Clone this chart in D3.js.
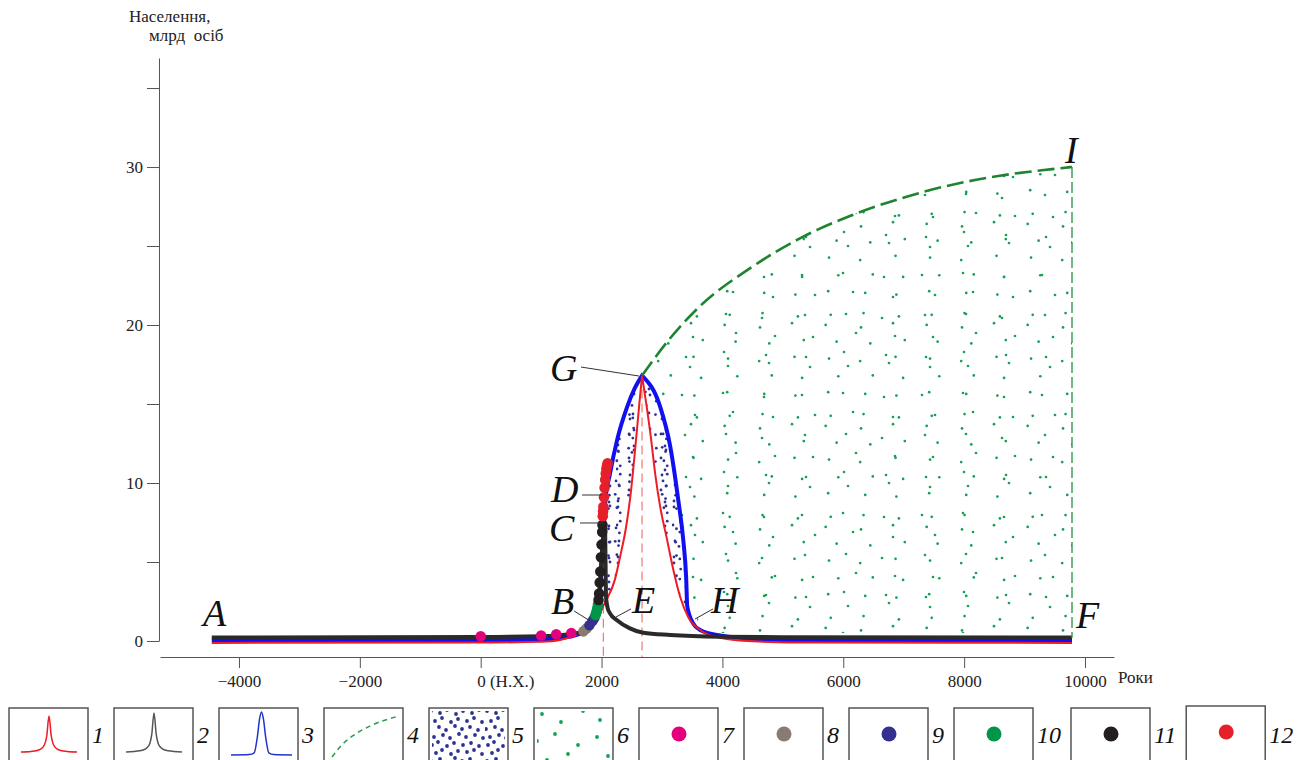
<!DOCTYPE html>
<html lang="uk">
<head>
<meta charset="UTF-8" />
<title>Населення світу</title>
<script src="https://d3js.org/d3.v7.min.js"></script>
<style>
  body { margin: 0; background: #fff; }
  svg { display: block; font-family: "Liberation Serif", "Times New Roman", serif; }
  .axis path, .axis line { stroke: #555; }
  .axis text { font-size: 17px; fill: #222; font-family: "Liberation Serif", serif; }
  .lbl { font-style: italic; font-size: 38px; fill: #111; }
  .leg { font-style: italic; font-size: 24px; fill: #111; }
</style>
</head>
<body>
<svg id="chart" width="1298" height="760"></svg>
<script>
// ---- data (years, billions) ----
// curve 1 (red), split at the peak
const redLeft = [[-4450,-0.12],[0,-0.1],[1000,-0.05],[1315,0.06],[1645,0.5],[1890,1.1],[2040,2.3],[2222,3.9],[2305,5.3],[2405,7.2],[2490,9.6],[2555,12.1],[2620,14.8],[2670,16.8]];
const redRight = [[2670,16.8],[2748,14.8],[2822,12.7],[2887,10.6],[2970,8.5],[3085,6.4],[3200,4.3],[3300,2.8],[3435,1.5],[3630,0.7],[3960,0.2],[4500,-0.02],[5500,-0.1],[9785,-0.12]];
// curve 2 (black)
const blackLeft = [[-4450,0.22],[0,0.25],[1000,0.3],[1500,0.45],[1700,0.62],[1800,0.95],[1900,1.6],[1950,2.5],[2000,5.3],[2040,7.2],[2058,7.5]];
const blackRight = [[2058,7.5],[2066,5.0],[2074,2.8],[2100,2.1],[2140,1.75],[2250,1.33],[2470,0.8],[2690,0.52],[3135,0.38],[3960,0.27],[5000,0.24],[9785,0.22]];
// curve 3 (blue)
const blueLeft = [[-4450,0.03],[0,0.05],[1000,0.1],[1500,0.3],[1750,0.7],[1850,1.2],[1950,2.4],[2000,4.5],[2040,7.3],[2060,8.8],[2140,10.6],[2256,12.7],[2422,14.8],[2550,16.0],[2670,16.8]];
const blueRight = [[2670,16.8],[2972,14.8],[3137,12.3],[3270,8.9],[3352,6.4],[3400,4.0],[3418,2.2],[3518,1.1],[3630,0.7],[3960,0.35],[4620,0.12],[5500,0.03],[9785,0.03]];
// curve 4 (green dashed limit)
const limitCurve = [[2670,16.8],[3100,19.0],[3630,21.2],[4460,23.6],[5290,25.5],[6110,26.9],[6940,28.0],[7770,28.85],[8590,29.45],[9420,29.85],[9785,30]];
const limitEnd = [9785, 30];
// dashed verticals (year, top value)
const dropLines = [[2030,2.3],[2670,16.8]];

// point series 7..12
const points7 = [[0,0.3],[1000,0.35],[1250,0.42],[1500,0.5]];
const points8 = [[1700,0.61],[1750,0.79]];
const points9 = [[1800,1.0],[1850,1.26],[1880,1.45]];
const points10 = [[1900,1.65],[1910,1.75],[1920,1.9],[1930,2.07],[1940,2.3]];
const points11 = [[1950,2.6],[1960,3.0],[1970,3.7],[1980,4.4],[1990,5.3],[2000,6.1],[2010,6.9],[2015,7.35]];
const points12 = [[2020,7.9],[2025,8.2],[2030,8.5],[2040,9.1],[2050,9.7],[2060,10.2],[2070,10.6],[2080,10.9],[2090,11.1],[2100,11.25]];

// letters: text anchor (year, value), optional leader line
const letters = [
  {t:"A", at:[-4595,0.95]},
  {t:"B", at:[1164,1.7], from:[1545,1.9], to:[1810,1.27]},
  {t:"C", at:[1130,6.33], from:[1643,7.47], to:[2024,7.47]},
  {t:"D", at:[1164,8.8], from:[1677,9.24], to:[2007,9.24]},
  {t:"E", at:[2504,1.77], from:[2487,2.03], to:[2239,1.52]},
  {t:"G", at:[1147,16.46], from:[1660,17.34], to:[2620,16.77]},
  {t:"H", at:[3812,1.77], from:[3844,2.03], to:[3546,1.39]},
  {t:"I", at:[9669,30.25]},
  {t:"F", at:[9851,0.82]}
];

const xTicks = [-4000,-2000,0,2000,4000,6000,8000,10000];
const xTickLabels = ["\u22124000","\u22122000","0 (Н.Х.)","2000","4000","6000","8000","10000"];
const yTicks = [0,5,10,15,20,25,30,35];
const yTickLabels = ["0","","10","","20","","30",""];

const legendLabels = ["1","2","3","4","5","6","7","8","9","10","11","12"];
// sample shapes in the legend (0..1 units)
const legendSharp = [[0,0],[0.25,0.03],[0.35,0.08],[0.42,0.2],[0.46,0.45],[0.5,1],[0.54,0.45],[0.58,0.2],[0.65,0.08],[0.75,0.03],[1,0]];
const legendBell = [[0,0],[0.3,0.01],[0.38,0.05],[0.43,0.4],[0.47,0.85],[0.5,1],[0.53,0.85],[0.57,0.4],[0.62,0.05],[0.7,0.01],[1,0]];
const legendLimit = [[0,0],[0.15,0.3],[0.35,0.56],[0.6,0.78],[1,1]];

// ---- drawing ----
const RED = "#ee1c25", BLUE = "#1010f0", BLACK = "#2a2a2a", DGREEN = "#1e8430";
const NAVY = "#2e3192", GDOT = "#14a055";
const pointColors = ["#e4007c","#8a7b72","#34308f","#00964a","#231f20","#e5202a"];

const svg = d3.select("#chart");
const x = d3.scaleLinear().domain([-5307, 10480]).range([160, 1114]);
const y = d3.scaleLinear().domain([0, 36.9]).range([641, 58]);

const line = d3.line().x(d => x(d[0])).y(d => y(d[1])).curve(d3.curveMonotoneX);
function branchPath(left, right) {
  return line(left) + line(right).replace(/^M[^A-Za-z]*/, "");
}
function areaPath(left, right, base) {
  const x0 = x(left[0][0]), x1 = x(right[right.length - 1][0]);
  return branchPath(left, right) + `L${x1},${y(base)}L${x0},${y(base)}Z`;
}

// dot textures: two tiles of different size each, so the repeat is hard to see
const defs = svg.append("defs");
const navyTile = [
  [2,3],[11,5],[18,2],[27,6],[34,3],[43,5],[50,2],
  [6,13],[13,10],[22,14],[29,11],[38,13],[45,10],[53,14],
  [1,21],[10,19],[17,22],[26,18],[33,21],[41,19],[49,22],
  [5,29],[14,27],[21,30],[30,26],[37,29],[46,27],[54,30],
  [3,37],[9,34],[18,38],[25,35],[34,37],[42,35],[50,38],
  [7,45],[13,42],[22,46],[29,43],[38,44],[45,42],[53,46],
  [2,53],[11,51],[18,54],[26,50],[33,53],[41,51],[49,54]];
const greenTile = [
  [8,6],[27,14],[49,3],[66,12],[90,7],[108,16],
  [3,33],[21,26],[44,37],[63,29],[82,35],[101,24],
  [13,52],[34,46],[53,57],[74,48],[95,55],[115,44],
  [6,74],[25,66],[42,78],[62,69],[85,75],[104,64],
  [16,93],[36,87],[55,96],[77,86],[93,97],[113,89],
  [4,112],[24,106],[46,115],[68,108],[86,117],[105,110]];
function makePattern(id, size, pts, r, color) {
  const p = defs.append("pattern").attr("id", id).attr("patternUnits", "userSpaceOnUse")
    .attr("width", size).attr("height", size);
  p.selectAll("circle").data(pts).join("circle")
    .attr("cx", d => d[0]).attr("cy", d => d[1]).attr("r", r).attr("fill", color);
}
const evens = a => a.filter((d, i) => i % 2 === 0);
const odds = (a, k) => a.filter((d, i) => i % 2 === 1).map(d => [d[0] * k, d[1] * k]);
makePattern("navyA", 56, evens(navyTile), 1.4, NAVY);
makePattern("navyB", 47, odds(navyTile, 47 / 56), 1.4, NAVY);
makePattern("greenA", 120, evens(greenTile), 1.35, GDOT);
makePattern("greenB", 101, odds(greenTile, 101 / 120), 1.35, GDOT);
makePattern("navyDotsL", 56, navyTile, 1.9, NAVY);
makePattern("greenDotsL", 120, greenTile, 1.9, GDOT);

defs.append("clipPath").attr("id", "navyClip").append("rect")
  .attr("x", x(2040)).attr("y", 0).attr("width", x(3440) - x(2040)).attr("height", y(1.5));

// region 6: under the limit curve
const greenD = line(limitCurve) + `L${x(limitEnd[0])},${y(0.5)}L${x(3630)},${y(0.5)}Z`;
["greenA", "greenB"].forEach(id => svg.append("path").attr("d", greenD).attr("fill", `url(#${id})`));
// blue area blanks out green dots, then region 5
const blueD = areaPath(blueLeft, blueRight, 0.5);
svg.append("path").attr("d", blueD).attr("fill", "#fff");
["navyA", "navyB"].forEach(id => svg.append("path").attr("d", blueD)
  .attr("fill", `url(#${id})`).attr("clip-path", "url(#navyClip)"));
svg.append("path").attr("d", areaPath(redLeft, redRight, -0.12)).attr("fill", "#fff");

// dashed verticals
svg.selectAll(".drop").data(dropLines).join("line").attr("class", "drop")
  .attr("x1", d => x(d[0])).attr("x2", d => x(d[0]))
  .attr("y1", d => y(d[1])).attr("y2", 657)
  .attr("stroke", "#f07a72").attr("stroke-width", 1.2).attr("stroke-dasharray", "9,5");

// curves
svg.append("path").attr("d", branchPath(blueLeft, blueRight))
  .attr("fill", "none").attr("stroke", BLUE).attr("stroke-width", 4);
svg.append("path").attr("d", branchPath(redLeft, redRight))
  .attr("fill", "none").attr("stroke", RED).attr("stroke-width", 2);
svg.append("path").attr("d", branchPath(blackLeft, blackRight))
  .attr("fill", "none").attr("stroke", BLACK).attr("stroke-width", 4);

// limit curve and right edge
svg.append("path").attr("d", line(limitCurve))
  .attr("fill", "none").attr("stroke", DGREEN).attr("stroke-width", 2.6).attr("stroke-dasharray", "17,6");
svg.append("line")
  .attr("x1", x(limitEnd[0])).attr("x2", x(limitEnd[0]))
  .attr("y1", y(limitEnd[1])).attr("y2", y(0.2))
  .attr("stroke", "#2e9a4a").attr("stroke-width", 1.4).attr("stroke-dasharray", "11,4");

// points
[points7, points8, points9, points10, points11, points12].forEach((pts, i) => {
  svg.append("g").selectAll("circle").data(pts).join("circle")
    .attr("cx", d => x(d[0])).attr("cy", d => y(d[1])).attr("r", 5.3)
    .attr("fill", pointColors[i]);
});

// letters
const lg = svg.append("g");
lg.selectAll("line").data(letters.filter(d => d.from)).join("line")
  .attr("x1", d => x(d.from[0])).attr("y1", d => y(d.from[1]))
  .attr("x2", d => x(d.to[0])).attr("y2", d => y(d.to[1]))
  .attr("stroke", "#333").attr("stroke-width", 1);
lg.selectAll("text").data(letters).join("text").attr("class", "lbl")
  .attr("x", d => x(d.at[0])).attr("y", d => y(d.at[1])).text(d => d.t);

// axes
const gx = svg.append("g").attr("class", "axis").attr("transform", "translate(0,657)")
  .call(d3.axisBottom(x).tickValues(xTicks).tickSize(11).tickSizeOuter(0).tickPadding(7)
    .tickFormat((d, i) => xTickLabels[i]));
gx.selectAll(".tick text").filter(d => d === 0).attr("text-anchor", "start").attr("dx", -4);
svg.append("text").attr("x", 1118).attr("y", 683).attr("font-size", 17).attr("fill", "#222").text("Роки");

svg.append("g").attr("class", "axis").attr("transform", "translate(159,0)")
  .call(d3.axisLeft(y).tickValues(yTicks).tickSize(12).tickSizeOuter(0).tickPadding(4)
    .tickFormat((d, i) => yTickLabels[i]));
svg.append("text").attr("x", 129).attr("y", 22).attr("font-size", 17).attr("fill", "#222").text("Населення,");
svg.append("text").attr("x", 149).attr("y", 41).attr("font-size", 17).attr("fill", "#222")
  .attr("style", "white-space:pre").text("млрд  осіб");

// legend
const legend = svg.append("g");
let bx = 9;
legendLabels.forEach((lab, i) => {
  const g = legend.append("g").attr("transform", `translate(${bx},${i === 11 ? 706 : 708})`);
  g.append("rect").attr("width", 79).attr("height", 62).attr("fill", "#fff")
    .attr("stroke", "#555").attr("stroke-width", 1.5);
  if (i < 3) {
    const shape = i === 2 ? legendBell : legendSharp;
    const lx = d3.scaleLinear().domain([0, 1]).range(i === 2 ? [12, 73] : [12, 68]);
    const ly = d3.scaleLinear().domain([0, 1]).range(i === 2 ? [47, 4] : [44, i === 1 ? 5 : 8]);
    g.append("path")
      .attr("d", d3.line().x(d => lx(d[0])).y(d => ly(d[1])).curve(d3.curveMonotoneX)(shape))
      .attr("fill", "none").attr("stroke", [RED, "#555", "#2233cc"][i]).attr("stroke-width", 1.5);
  } else if (i === 3) {
    const lx = d3.scaleLinear().domain([0, 1]).range([8, 75]);
    const ly = d3.scaleLinear().domain([0, 1]).range([49, 8]);
    g.append("path")
      .attr("d", d3.line().x(d => lx(d[0])).y(d => ly(d[1])).curve(d3.curveMonotoneX)(legendLimit))
      .attr("fill", "none").attr("stroke", "#2a9a4a").attr("stroke-width", 1.5).attr("stroke-dasharray", "5,4");
  } else if (i === 4 || i === 5) {
    g.append("rect").attr("x", 3).attr("y", 3).attr("width", 73).attr("height", 59)
      .attr("fill", i === 4 ? "url(#navyDotsL)" : "url(#greenDotsL)");
  } else {
    g.append("circle").attr("cx", 40).attr("cy", 26).attr("r", 7.5).attr("fill", pointColors[i - 6]);
  }
  const t = legend.append("text").attr("class", "leg").attr("x", bx + 83).attr("y", 743).text(lab);
  bx = bx + 83 + t.node().getComputedTextLength() + 10;
});
</script>
</body>
</html>
